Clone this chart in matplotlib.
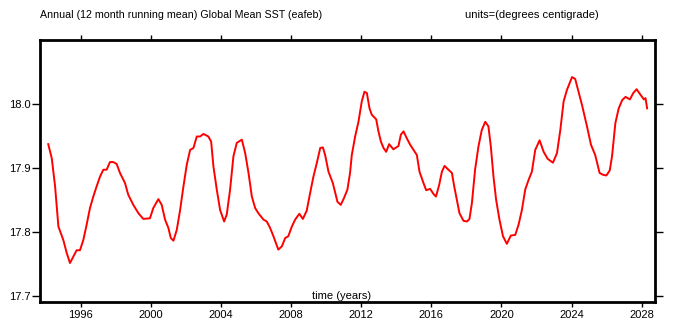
import matplotlib
matplotlib.use("Agg")
import matplotlib.pyplot as plt

plt.rcParams['font.family'] = ['Liberation Sans', 'DejaVu Sans']

title_left = "Annual (12 month running mean) Global Mean SST (eafeb)"
title_right = "units=(degrees centigrade)"
xlabel = "time (years)"

# (decimal year, degC)
years = [1994.16, 1994.36, 1994.55, 1994.74, 1995.02, 1995.21, 1995.40, 1995.59,
         1995.78, 1995.97, 1996.16, 1996.35, 1996.54, 1996.73, 1996.92, 1997.11,
         1997.30, 1997.49, 1997.68, 1997.87, 1998.06, 1998.25, 1998.54, 1998.72,
         1999.01, 1999.30, 1999.58, 1999.96, 2000.15, 2000.44, 2000.63, 2000.82,
         2001.01, 2001.15, 2001.30, 2001.49, 2001.68, 2001.87, 2002.06, 2002.25,
         2002.44, 2002.63, 2002.82, 2003.01, 2003.29, 2003.45, 2003.58, 2003.77,
         2003.96, 2004.19, 2004.34, 2004.53, 2004.72, 2004.91, 2005.20, 2005.39,
         2005.58, 2005.77, 2005.96, 2006.14, 2006.43, 2006.62, 2006.81, 2007.00,
         2007.28, 2007.48, 2007.67, 2007.85, 2008.05, 2008.24, 2008.48, 2008.68,
         2008.90, 2009.09, 2009.28, 2009.47, 2009.67, 2009.82, 2009.95, 2010.14,
         2010.39, 2010.65, 2010.84, 2011.03, 2011.22, 2011.37, 2011.47, 2011.66,
         2011.85, 2012.04, 2012.19, 2012.33, 2012.48, 2012.61, 2012.86, 2012.99,
         2013.13, 2013.28, 2013.43, 2013.60, 2013.84, 2014.13, 2014.27, 2014.42,
         2014.61, 2014.80, 2014.99, 2015.18, 2015.33, 2015.52, 2015.71, 2015.94,
         2016.13, 2016.27, 2016.45, 2016.61, 2016.76, 2016.98, 2017.18, 2017.31,
         2017.46, 2017.61, 2017.84, 2018.04, 2018.18, 2018.32, 2018.50, 2018.69,
         2018.88, 2019.08, 2019.26, 2019.40, 2019.55, 2019.70, 2019.89, 2020.09,
         2020.31, 2020.54, 2020.79, 2020.98, 2021.17, 2021.36, 2021.55, 2021.74,
         2021.93, 2022.18, 2022.41, 2022.64, 2022.94, 2023.17, 2023.36, 2023.55,
         2023.74, 2024.03, 2024.21, 2024.40, 2024.60, 2024.88, 2025.11, 2025.35,
         2025.60, 2025.80, 2025.99, 2026.18, 2026.31, 2026.50, 2026.69, 2026.89,
         2027.08, 2027.33, 2027.52, 2027.71, 2027.94, 2028.13, 2028.22, 2028.31]
sst = [17.937, 17.915, 17.871, 17.808, 17.787, 17.767, 17.751, 17.761,
       17.771, 17.771, 17.787, 17.811, 17.837, 17.855, 17.871, 17.886,
       17.897, 17.897, 17.909, 17.909, 17.906, 17.892, 17.876, 17.858,
       17.842, 17.829, 17.820, 17.821, 17.837, 17.851, 17.842, 17.819,
       17.806, 17.790, 17.786, 17.803, 17.834, 17.871, 17.905, 17.928,
       17.931, 17.949, 17.949, 17.953, 17.949, 17.941, 17.902, 17.866,
       17.834, 17.816, 17.827, 17.866, 17.918, 17.939, 17.944, 17.923,
       17.892, 17.855, 17.837, 17.829, 17.819, 17.816, 17.806, 17.793,
       17.772, 17.777, 17.790, 17.793, 17.808, 17.819, 17.828, 17.820,
       17.833, 17.860, 17.886, 17.907, 17.931, 17.932, 17.920, 17.894,
       17.876, 17.847, 17.842, 17.853, 17.866, 17.892, 17.920, 17.949,
       17.972, 18.004, 18.019, 18.017, 17.993, 17.983, 17.976, 17.957,
       17.941, 17.931, 17.925, 17.937, 17.929, 17.934, 17.952, 17.957,
       17.946, 17.936, 17.928, 17.920, 17.894, 17.879, 17.865, 17.867,
       17.859, 17.855, 17.873, 17.894, 17.903, 17.897, 17.892, 17.871,
       17.850, 17.829, 17.817, 17.816, 17.820, 17.845, 17.897, 17.933,
       17.959, 17.972, 17.965, 17.933, 17.886, 17.850, 17.819, 17.793,
       17.781, 17.794, 17.795, 17.811, 17.834, 17.866, 17.881, 17.894,
       17.928, 17.943, 17.925, 17.914, 17.908, 17.923, 17.959, 18.004,
       18.022, 18.042, 18.039, 18.019, 17.998, 17.965, 17.936, 17.920,
       17.892, 17.889, 17.888, 17.896, 17.918, 17.970, 17.993, 18.006,
       18.011, 18.007, 18.017, 18.023, 18.014, 18.007, 18.009, 17.993]

xticks = [1996, 2000, 2004, 2008, 2012, 2016, 2020, 2024, 2028]
yticks = [17.7, 17.8, 17.9, 18.0]

fig = plt.figure(figsize=(6.8, 3.3), dpi=100)
ax = fig.add_axes([40/680, 1-302/330, 615/680, 262/330])

ax.plot(years, sst, color='red', lw=1.4)

ax.set_xlim(1993.69, 2028.76)
ax.set_ylim(17.69, 18.1)
ax.set_xticks(xticks)
ax.set_xticklabels([str(t) for t in xticks])
ax.set_yticks(yticks)
ax.set_yticklabels(["%.1f" % t for t in yticks])

for s in ax.spines.values():
    s.set_linewidth(2)
ax.tick_params(axis='both', direction='out', width=1, labelsize=8,
               top=True, right=True, labeltop=False, labelright=False)
ax.tick_params(axis='x', length=3.6, pad=2)
ax.tick_params(axis='y', length=5.5, pad=1)

ax.text(0.491, 0.005, xlabel, transform=ax.transAxes, ha='center', va='bottom', fontsize=8)
fig.text(40/680, 1-15/330, title_left, ha='left', va='center', fontsize=7.7)
fig.text(465/680, 1-15/330, title_right, ha='left', va='center', fontsize=8)

fig.savefig("out.png", dpi=100)
